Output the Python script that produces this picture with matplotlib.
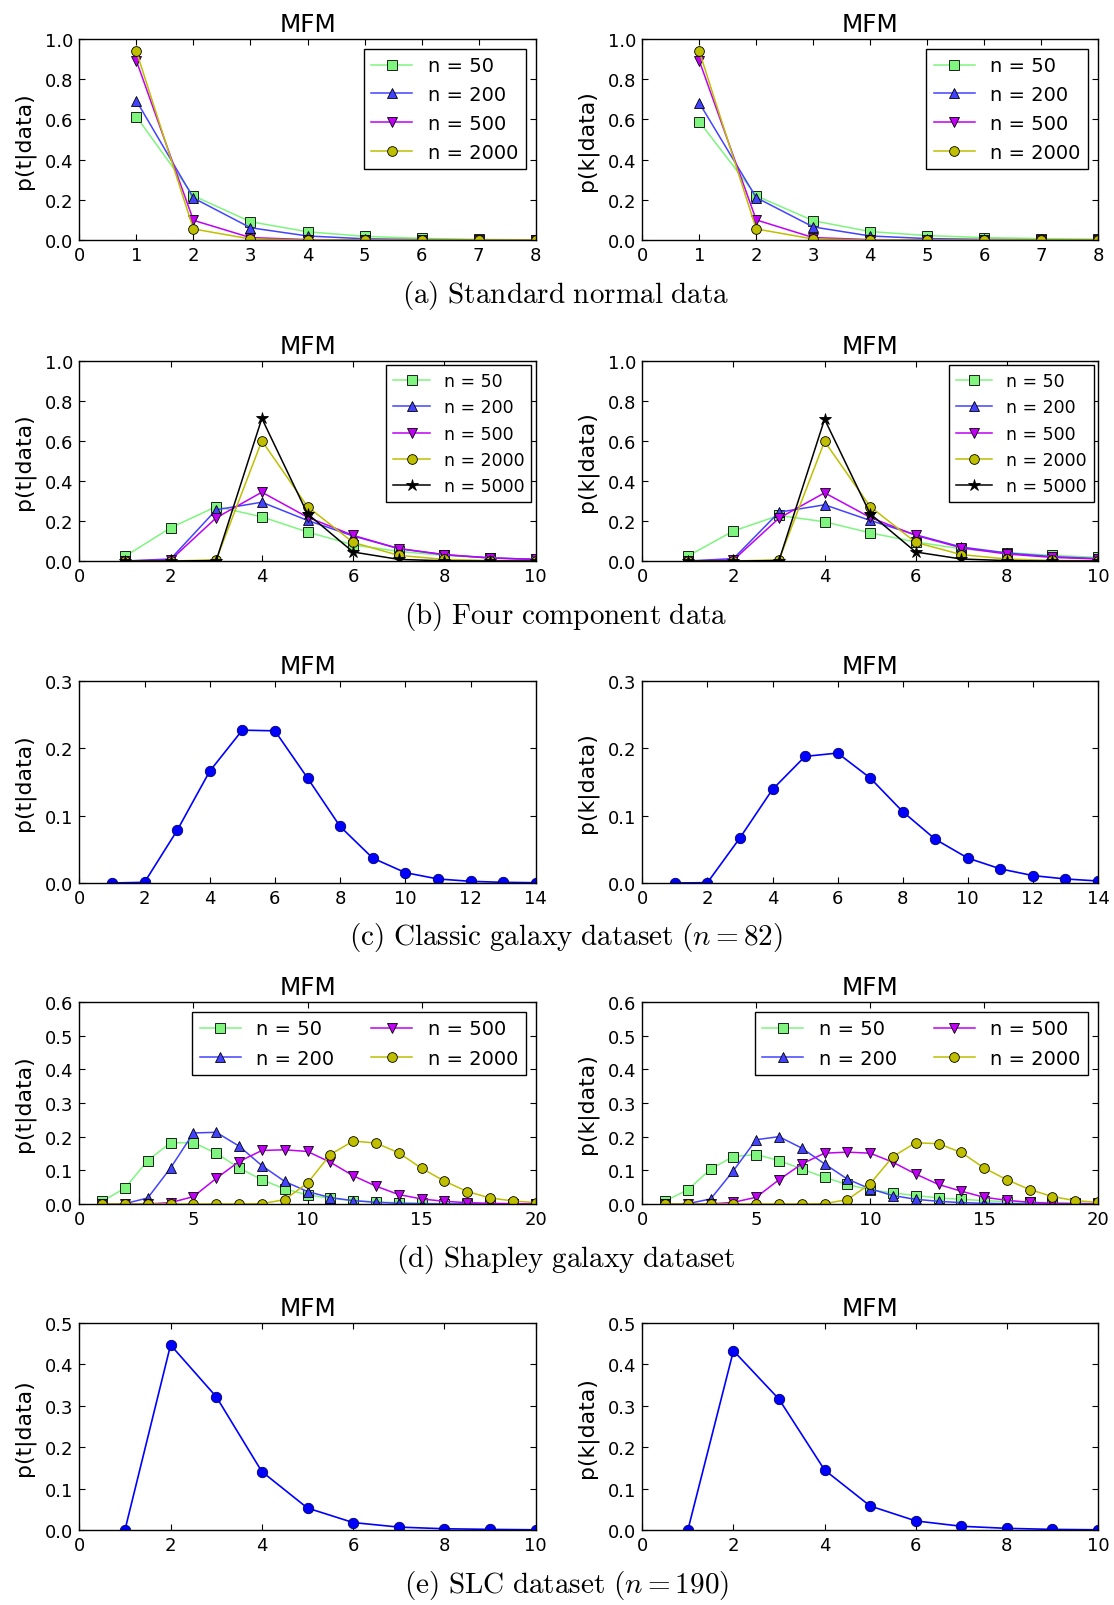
import numpy as np
import matplotlib.pyplot as plt

plt.rcParams["font.family"] = "DejaVu Sans"
plt.rcParams["mathtext.fontset"] = "cm"
plt.rcParams["xtick.direction"] = "in"
plt.rcParams["ytick.direction"] = "in"
plt.rcParams["xtick.top"] = True
plt.rcParams["ytick.right"] = True
plt.rcParams["xtick.major.size"] = 4
plt.rcParams["ytick.major.size"] = 4
plt.rcParams["xtick.major.pad"] = 4.5
plt.rcParams["ytick.major.pad"] = 4.5
plt.rcParams["xtick.labelsize"] = 13
plt.rcParams["ytick.labelsize"] = 13
plt.rcParams["axes.linewidth"] = 1.0

# (a) standard normal data
x_a = [1, 2, 3, 4, 5, 6, 7, 8]
a_t_50 = [0.614, 0.220, 0.091, 0.041, 0.018, 0.008, 0.003, 0.001]
a_t_200 = [0.693, 0.209, 0.061, 0.020, 0.006, 0.002, 0.001, 0.000]
a_t_500 = [0.892, 0.098, 0.012, 0.002, 0.000, 0.000, 0.000, 0.000]
a_t_2000 = [0.939, 0.055, 0.005, 0.000, 0.000, 0.000, 0.000, 0.000]
a_k_50 = [0.589, 0.220, 0.096, 0.042, 0.022, 0.012, 0.007, 0.004]
a_k_200 = [0.682, 0.211, 0.065, 0.020, 0.007, 0.003, 0.001, 0.000]
a_k_500 = [0.892, 0.100, 0.012, 0.002, 0.000, 0.000, 0.000, 0.000]
a_k_2000 = [0.939, 0.055, 0.005, 0.000, 0.000, 0.000, 0.000, 0.000]

# (b) four component data
x_b = [1, 2, 3, 4, 5, 6, 7, 8, 9, 10]
b_t_50 = [0.023, 0.166, 0.272, 0.221, 0.145, 0.081, 0.048, 0.028, 0.015, 0.008]
b_t_200 = [0.000, 0.010, 0.256, 0.294, 0.203, 0.125, 0.062, 0.031, 0.016, 0.008]
b_t_500 = [0.000, 0.005, 0.216, 0.344, 0.219, 0.128, 0.062, 0.032, 0.015, 0.008]
b_t_2000 = [0.000, 0.000, 0.006, 0.601, 0.272, 0.093, 0.028, 0.008, 0.002, 0.000]
b_t_5000 = [0.000, 0.000, 0.002, 0.713, 0.236, 0.045, 0.008, 0.001, 0.000, 0.000]
b_k_50 = [0.025, 0.150, 0.228, 0.196, 0.141, 0.095, 0.061, 0.042, 0.028, 0.018]
b_k_200 = [0.000, 0.012, 0.244, 0.281, 0.203, 0.131, 0.070, 0.040, 0.022, 0.012]
b_k_500 = [0.000, 0.005, 0.214, 0.341, 0.218, 0.128, 0.066, 0.035, 0.018, 0.010]
b_k_2000 = [0.000, 0.000, 0.006, 0.598, 0.272, 0.093, 0.032, 0.010, 0.003, 0.001]
b_k_5000 = [0.000, 0.000, 0.002, 0.709, 0.236, 0.045, 0.010, 0.002, 0.000, 0.000]

# (c) classic galaxy dataset, n = 82
x_c = [1, 2, 3, 4, 5, 6, 7, 8, 9, 10, 11, 12, 13, 14]
c_t = [0.000, 0.001, 0.078, 0.166, 0.227, 0.226, 0.156, 0.084, 0.037,
       0.0154, 0.006, 0.0025, 0.001, 0.0004]
c_k = [0.000, 0.0005, 0.067, 0.139, 0.188, 0.193, 0.156, 0.106, 0.065,
       0.037, 0.021, 0.011, 0.006, 0.003]

# (d) Shapley galaxy dataset
x_d = list(range(1, 21))
d_t_50 = [0.008, 0.047, 0.129, 0.182, 0.182, 0.151, 0.107, 0.072, 0.045, 0.027,
          0.017, 0.010, 0.006, 0.004, 0.002, 0.001, 0.001, 0.000, 0.000, 0.000]
d_t_200 = [0.000, 0.001, 0.018, 0.107, 0.211, 0.213, 0.172, 0.114, 0.067, 0.037,
           0.019, 0.010, 0.005, 0.002, 0.001, 0.000, 0.000, 0.000, 0.000, 0.000]
d_t_500 = [0.000, 0.000, 0.000, 0.004, 0.022, 0.076, 0.126, 0.159, 0.161, 0.156,
           0.124, 0.084, 0.053, 0.028, 0.015, 0.008, 0.004, 0.002, 0.001, 0.000]
d_t_2000 = [0.000, 0.000, 0.000, 0.000, 0.000, 0.000, 0.000, 0.001, 0.013, 0.062,
            0.147, 0.187, 0.181, 0.152, 0.106, 0.068, 0.037, 0.018, 0.009, 0.004]
d_k_50 = [0.009, 0.042, 0.104, 0.141, 0.147, 0.129, 0.104, 0.079, 0.058, 0.042,
          0.033, 0.025, 0.018, 0.014, 0.010, 0.007, 0.005, 0.004, 0.003, 0.002]
d_k_200 = [0.000, 0.001, 0.015, 0.099, 0.191, 0.200, 0.166, 0.119, 0.074, 0.045,
           0.025, 0.014, 0.008, 0.004, 0.002, 0.001, 0.000, 0.000, 0.000, 0.000]
d_k_500 = [0.000, 0.000, 0.000, 0.005, 0.020, 0.072, 0.119, 0.151, 0.154, 0.151,
           0.124, 0.089, 0.058, 0.038, 0.020, 0.011, 0.005, 0.002, 0.001, 0.000]
d_k_2000 = [0.000, 0.000, 0.000, 0.000, 0.000, 0.000, 0.000, 0.001, 0.013, 0.060,
            0.141, 0.182, 0.179, 0.153, 0.107, 0.072, 0.043, 0.022, 0.010, 0.005]

# (e) SLC dataset, n = 190
x_e = [1, 2, 3, 4, 5, 6, 7, 8, 9, 10]
e_t = [0.000, 0.447, 0.322, 0.141, 0.053, 0.018, 0.007, 0.003, 0.0015, 0.0005]
e_k = [0.000, 0.433, 0.316, 0.145, 0.058, 0.022, 0.009, 0.004, 0.0015, 0.0005]

sample_sizes = [50, 200, 500, 2000, 5000]
series_colors = ["#7ff57f", "#4343ff", "#c000f5", "#bfbf00", "k"]
series_markers = ["s", "^", "v", "o", "*"]

captions = [
    r"$\mathrm{(a)\ Standard\ normal\ data}$",
    r"$\mathrm{(b)\ Four\ component\ data}$",
    r"$\mathrm{(c)\ Classic\ galaxy\ dataset}\ (n = 82)$",
    r"$\mathrm{(d)\ Shapley\ galaxy\ dataset}$",
    r"$\mathrm{(e)\ SLC\ dataset}\ (n = 190)$",
]

W, H = 1114, 1606
fig = plt.figure(figsize=(W / 100, H / 100), dpi=100)

# axes boxes in pixels: (left, right) per column, (top, bottom) per row
cols = [(79.3, 535.7), (642.3, 1098)]
rows = [(40, 241), (362, 562), (682, 884), (1003, 1205), (1324, 1531)]


def make_axes(r, c):
    (x0, x1), (y0, y1) = cols[c], rows[r]
    return fig.add_axes([x0 / W, 1 - y1 / H, (x1 - x0) / W, (y1 - y0) / H])


def style(ax, ylab, xmax, ymax, xstep, ystep):
    ax.set_xlim(0, xmax)
    ax.set_ylim(0, ymax)
    ax.set_xticks(np.arange(0, xmax + 0.01, xstep))
    ax.set_yticks(np.arange(0, ymax + 0.001, ystep))
    ax.yaxis.set_major_formatter(plt.FormatStrFormatter("%.1f"))
    ax.set_title("MFM", fontsize=17.8, pad=6)
    ax.set_ylabel(ylab, fontsize=15.8, labelpad=7)


def multi(ax, x, ys, ylab, xmax, ymax, xstep, ystep):
    for i, y in enumerate(ys):
        star = series_markers[i] == "*"
        ax.plot(x, y, color=series_colors[i], marker=series_markers[i],
                ms=9 if star else 7, mec="k", mew=0.6, lw=1.1,
                label="n = %d" % sample_sizes[i])
    style(ax, ylab, xmax, ymax, xstep, ystep)


def single(ax, x, y, ylab, xmax, ymax, xstep, ystep):
    ax.plot(x, y, color="b", marker="o", ms=7.5, mec="#000060", mew=0.6, lw=1.2)
    style(ax, ylab, xmax, ymax, xstep, ystep)


def legend(ax, fs, ncol=1, pad=0.5, spacing=0.5):
    ax.legend(loc="upper right", numpoints=1, ncol=ncol, fontsize=fs,
              fancybox=False, framealpha=1, edgecolor="k", borderaxespad=pad,
              handlelength=2.1, handletextpad=0.8, columnspacing=1.9,
              labelspacing=spacing)


ylabs = ["p(t|data)", "p(k|data)"]

# row (a)
for c, ys in enumerate([[a_t_50, a_t_200, a_t_500, a_t_2000],
                        [a_k_50, a_k_200, a_k_500, a_k_2000]]):
    ax = make_axes(0, c)
    multi(ax, x_a, ys, ylabs[c], 8, 1.0, 1, 0.2)
    legend(ax, 14, spacing=0.5)

# row (b)
for c, ys in enumerate([[b_t_50, b_t_200, b_t_500, b_t_2000, b_t_5000],
                        [b_k_50, b_k_200, b_k_500, b_k_2000, b_k_5000]]):
    ax = make_axes(1, c)
    multi(ax, x_b, ys, ylabs[c], 10, 1.0, 2, 0.2)
    legend(ax, 12.5, pad=0.25, spacing=0.47)

# row (c)
for c, y in enumerate([c_t, c_k]):
    ax = make_axes(2, c)
    single(ax, x_c, y, ylabs[c], 14, 0.3, 2, 0.1)

# row (d)
for c, ys in enumerate([[d_t_50, d_t_200, d_t_500, d_t_2000],
                        [d_k_50, d_k_200, d_k_500, d_k_2000]]):
    ax = make_axes(3, c)
    multi(ax, x_d, ys, ylabs[c], 20, 0.6, 5, 0.1)
    legend(ax, 14, ncol=2, spacing=0.52)

# row (e)
for c, y in enumerate([e_t, e_k]):
    ax = make_axes(4, c)
    single(ax, x_e, y, ylabs[c], 10, 0.5, 2, 0.1)

# captions under each row
caption_y = [296, 617, 938, 1259, 1586]
for cap, yc in zip(captions, caption_y):
    fig.text(566 / W, 1 - yc / H, cap, ha="center", va="center", fontsize=21)

fig.savefig("out.png", dpi=100, facecolor="white")
